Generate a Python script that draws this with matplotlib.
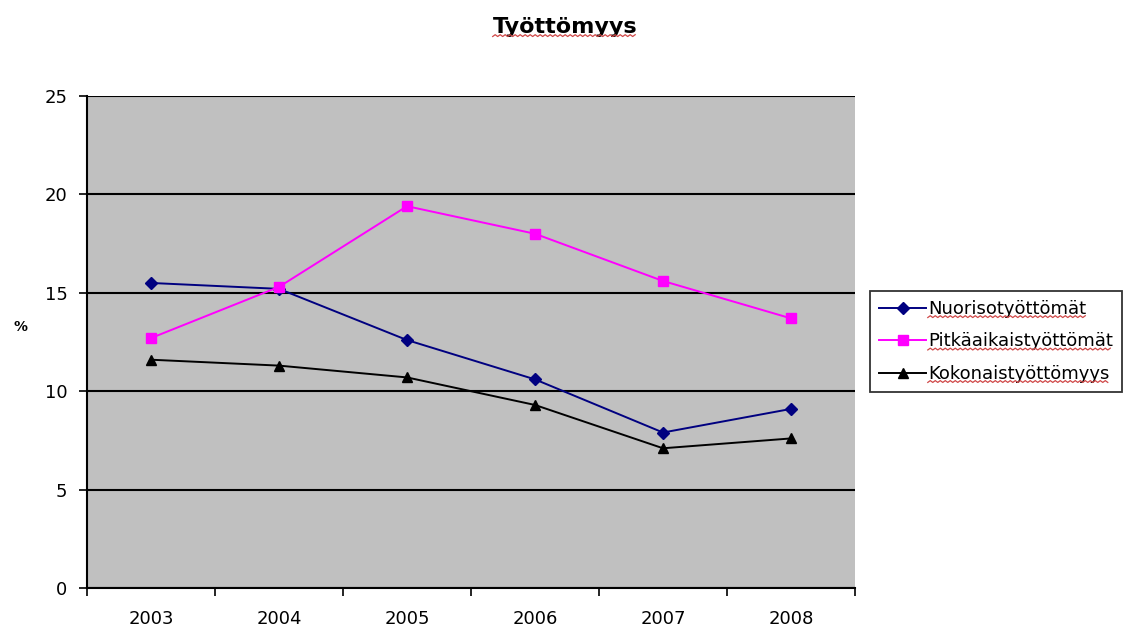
import matplotlib.pyplot as plt
import numpy as np

# Data
years = ["2003", "2004", "2005", "2006", "2007", "2008"]
nuoriso = [15.5, 15.2, 12.6, 10.6, 7.9, 9.1]
pitkaaikais = [12.7, 15.3, 19.4, 18.0, 15.6, 13.7]
kokonais = [11.6, 11.3, 10.7, 9.3, 7.1, 7.6]

plt.rcParams['font.family'] = ['DejaVu Sans']

W, H = 1129, 628
fig = plt.figure(figsize=(W / 100, H / 100), dpi=100)
ax = fig.add_axes([87 / W, 1 - 588 / H, (855 - 87) / W, (588 - 96) / H])
ax.set_facecolor('#C0C0C0')

x = np.arange(len(years))
ax.plot(x, nuoriso, color='#000080', marker='D', markersize=6, lw=1.4,
        label='Nuorisotyöttömät')
ax.plot(x, pitkaaikais, color='#FF00FF', marker='s', markersize=6.5, lw=1.4,
        label='Pitkäaikaistyöttömät')
ax.plot(x, kokonais, color='black', marker='^', markersize=7, lw=1.4,
        label='Kokonaistyöttömyys')

ax.set_xlim(-0.5, len(years) - 0.5)
ax.set_ylim(0, 25)
ax.set_yticks([0, 5, 10, 15, 20, 25])
ax.yaxis.grid(True, color='black', lw=1.5)
ax.set_axisbelow(True)

# ticks between categories, labels at centres
ax.set_xticks(np.arange(-0.5, len(years), 1.0))
ax.set_xticklabels([])
ax.set_xticks(x, minor=True)
ax.set_xticklabels(years, minor=True)
ax.tick_params(axis='x', which='major', length=6, width=1.2, direction='out')
ax.tick_params(axis='x', which='minor', length=0, pad=16, labelsize=13)
ax.tick_params(axis='y', length=6, width=1.2, direction='out', labelsize=13, pad=8)

for side in ['top', 'right']:
    ax.spines[side].set_visible(False)
ax.spines['left'].set_linewidth(1.5)
ax.spines['bottom'].set_linewidth(1.5)

fig.text(20 / W, 1 - 327 / H, '%', fontsize=10, fontweight='bold', ha='center', va='center')
title = fig.text(565 / W, 1 - 27 / H, 'Työttömyys', fontsize=16, fontweight='bold',
                 ha='center', va='center')

leg = fig.legend(loc='upper left', bbox_to_anchor=(870 / W, 1 - 291 / H), frameon=True,
                 fancybox=False, edgecolor='black', fontsize=13, handlelength=2.6,
                 handletextpad=0.1, borderpad=0.5, labelspacing=0.8, borderaxespad=0)
leg.get_frame().set_linewidth(1.3)

# red spell-check squiggles under title and legend texts
fig.canvas.draw()
renderer = fig.canvas.get_renderer()
for t in [title] + leg.get_texts():
    bb = t.get_window_extent(renderer)
    xs = np.arange(bb.x0, bb.x1, 2.5)
    ys = bb.y0 + 0.5 + 1.8 * (np.arange(len(xs)) % 2)
    fig.add_artist(plt.Line2D(xs, ys, transform=None, color='#D04848', lw=0.9, zorder=10))

fig.savefig('out.png', dpi=100)
